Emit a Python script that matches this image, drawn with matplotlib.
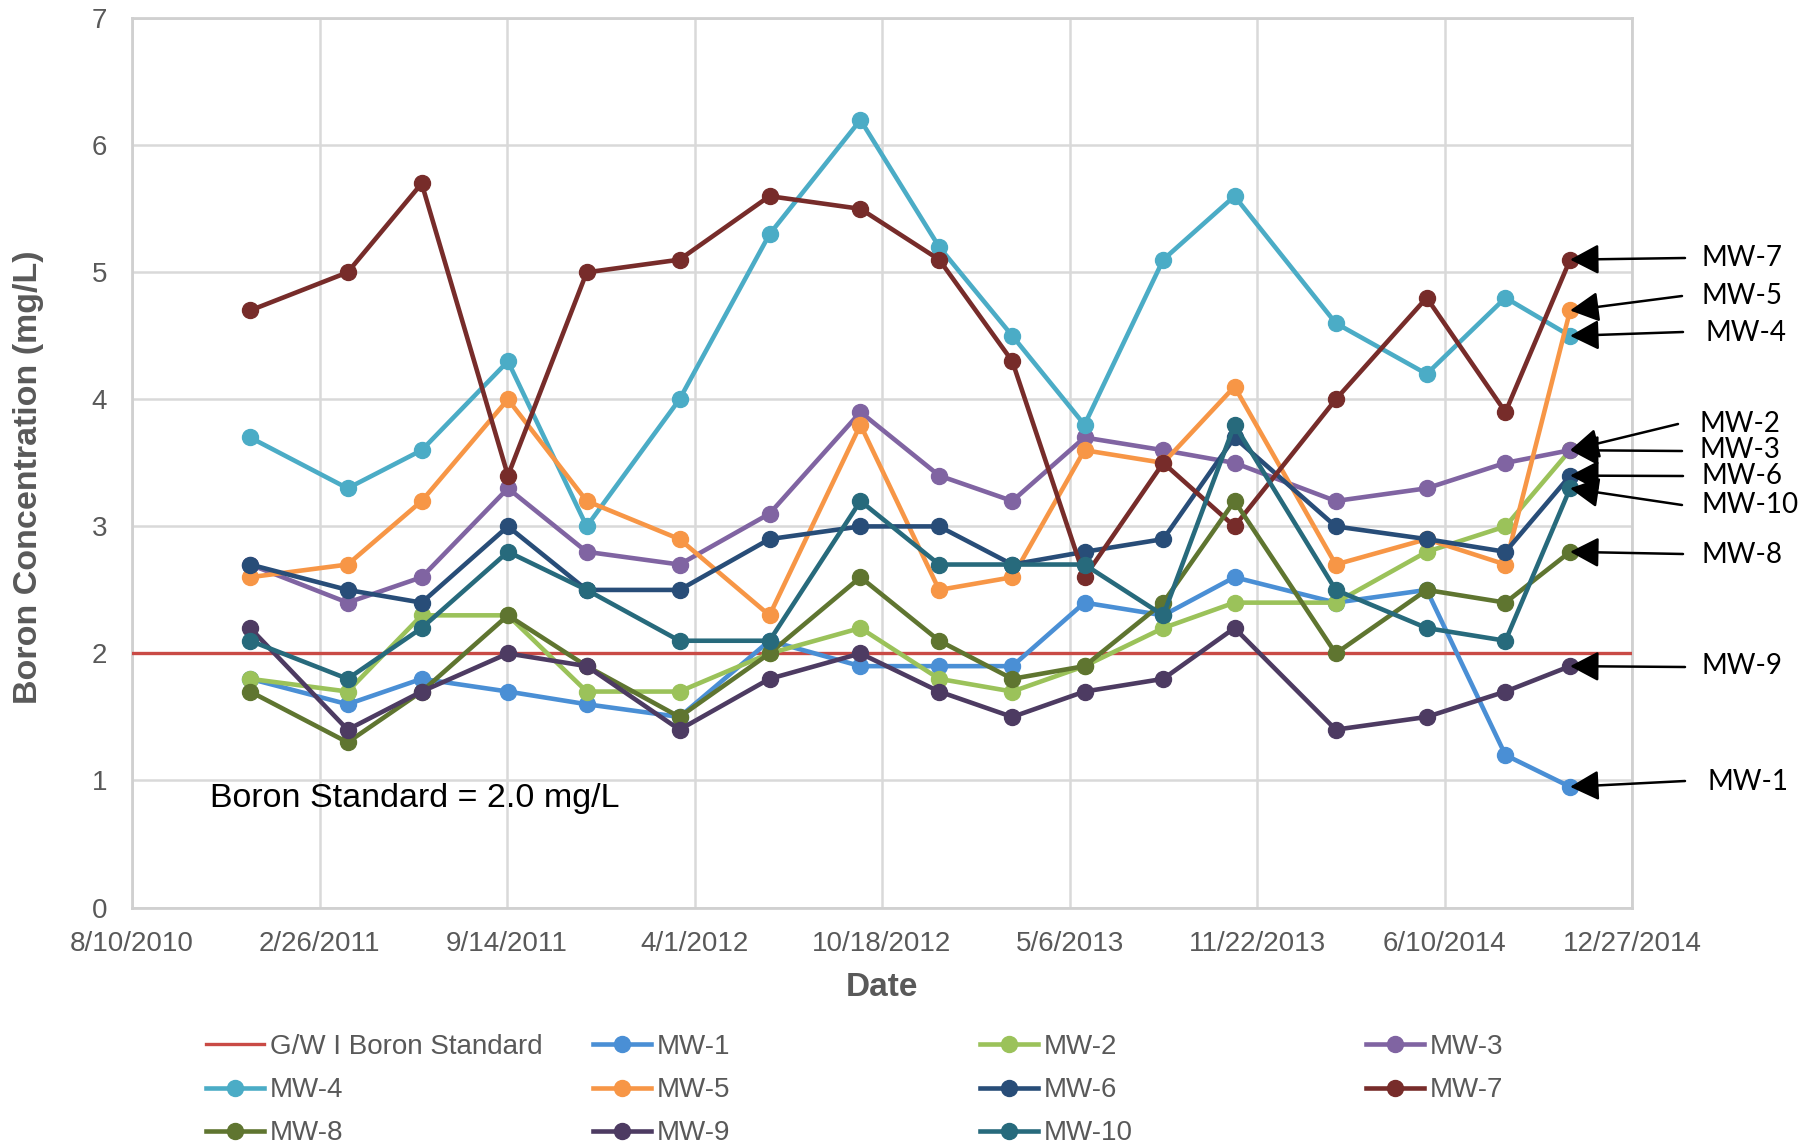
import matplotlib
matplotlib.use("Agg")
import matplotlib.pyplot as plt
import matplotlib.dates as mdates
from matplotlib.ticker import FuncFormatter
import pandas as pd

# Sampling dates
sample_dates = ["2010-12-14", "2011-03-28", "2011-06-15", "2011-09-15", "2011-12-08",
                "2012-03-16", "2012-06-20", "2012-09-25", "2012-12-18", "2013-03-06",
                "2013-05-22", "2013-08-14", "2013-10-29", "2014-02-14", "2014-05-22",
                "2014-08-14", "2014-10-22"]

# Boron concentrations (mg/L) per monitoring well
mw1 = [1.8, 1.6, 1.8, 1.7, 1.6, 1.5, 2.1, 1.9, 1.9, 1.9, 2.4, 2.3, 2.6, 2.4, 2.5, 1.2, 0.95]
mw2 = [1.8, 1.7, 2.3, 2.3, 1.7, 1.7, 2.0, 2.2, 1.8, 1.7, 1.9, 2.2, 2.4, 2.4, 2.8, 3.0, 3.6]
mw3 = [2.7, 2.4, 2.6, 3.3, 2.8, 2.7, 3.1, 3.9, 3.4, 3.2, 3.7, 3.6, 3.5, 3.2, 3.3, 3.5, 3.6]
mw4 = [3.7, 3.3, 3.6, 4.3, 3.0, 4.0, 5.3, 6.2, 5.2, 4.5, 3.8, 5.1, 5.6, 4.6, 4.2, 4.8, 4.5]
mw5 = [2.6, 2.7, 3.2, 4.0, 3.2, 2.9, 2.3, 3.8, 2.5, 2.6, 3.6, 3.5, 4.1, 2.7, 2.9, 2.7, 4.7]
mw6 = [2.7, 2.5, 2.4, 3.0, 2.5, 2.5, 2.9, 3.0, 3.0, 2.7, 2.8, 2.9, 3.7, 3.0, 2.9, 2.8, 3.4]
mw7 = [4.7, 5.0, 5.7, 3.4, 5.0, 5.1, 5.6, 5.5, 5.1, 4.3, 2.6, 3.5, 3.0, 4.0, 4.8, 3.9, 5.1]
mw8 = [1.7, 1.3, 1.7, 2.3, 1.9, 1.5, 2.0, 2.6, 2.1, 1.8, 1.9, 2.4, 3.2, 2.0, 2.5, 2.4, 2.8]
mw9 = [2.2, 1.4, 1.7, 2.0, 1.9, 1.4, 1.8, 2.0, 1.7, 1.5, 1.7, 1.8, 2.2, 1.4, 1.5, 1.7, 1.9]
mw10 = [2.1, 1.8, 2.2, 2.8, 2.5, 2.1, 2.1, 3.2, 2.7, 2.7, 2.7, 2.3, 3.8, 2.5, 2.2, 2.1, 3.3]

well_names = ["MW-1", "MW-2", "MW-3", "MW-4", "MW-5", "MW-6", "MW-7", "MW-8", "MW-9", "MW-10"]
well_values = [mw1, mw2, mw3, mw4, mw5, mw6, mw7, mw8, mw9, mw10]

boron_standard = 2.0
standard_name = "G/W I Boron Standard"

# Date axis ticks (every 200 days)
x_tick_dates = ["2010-08-10", "2011-02-26", "2011-09-14", "2012-04-01", "2012-10-18",
                "2013-05-06", "2013-11-22", "2014-06-10", "2014-12-27"]
y_ticks = [0, 1, 2, 3, 4, 5, 6, 7]

colors = {
    "MW-1": "#4A8FD5", "MW-2": "#9BC25A", "MW-3": "#8064A2", "MW-4": "#4BACC6",
    "MW-5": "#F79646", "MW-6": "#284D78", "MW-7": "#772C2A", "MW-8": "#5F7530",
    "MW-9": "#4D3B62", "MW-10": "#276A7C",
}
std_color = "#C94A45"
text_gray = "#595959"

W, H = 1813, 1145
fig = plt.figure(figsize=(W / 100, H / 100), dpi=100)
ax = fig.add_axes([132 / W, 1 - 907.5 / H, 1500 / W, 889.2 / H])

dates = pd.to_datetime(sample_dates)
tick_dates = pd.to_datetime(x_tick_dates)

handles = {}
(h,) = ax.plot([tick_dates[0], tick_dates[-1]], [boron_standard, boron_standard],
               color=std_color, lw=2.4, zorder=3, label=standard_name)
handles[standard_name] = h
for name, vals in zip(well_names, well_values):
    (h,) = ax.plot(dates, vals, color=colors[name], lw=3.3, marker="o", markersize=11.5,
                   zorder=3, label=name)
    handles[name] = h

ax.set_xlim(tick_dates[0], tick_dates[-1])
ax.set_ylim(0, 7)
ax.set_xticks(tick_dates)
ax.xaxis.set_major_formatter(FuncFormatter(
    lambda v, pos: (lambda d: f"{d.month}/{d.day}/{d.year}")(mdates.num2date(v))))
ax.set_yticks(y_ticks)
ax.grid(True, color="#D9D9D9", lw=1.8, zorder=0)
ax.set_axisbelow(True)
for s in ax.spines.values():
    s.set_color("#D0D0D0")
    s.set_linewidth(2)
ax.tick_params(axis="both", length=0, labelsize=20, labelcolor=text_gray)
ax.tick_params(axis="x", pad=17)
ax.tick_params(axis="y", pad=18)
for lab in ax.get_xticklabels() + ax.get_yticklabels():
    lab.set_fontfamily("Liberation Sans")

fig.text(882 / W, 1 - 987 / H, "Date", ha="center", va="center", fontsize=24,
         fontweight="bold", color=text_gray, family="Liberation Sans")
fig.text(29 / W, 1 - 477 / H, "Boron Concentration (mg/L)", ha="center", va="center",
         rotation=90, fontsize=24.5, fontweight="bold", color=text_gray,
         family="Liberation Sans")

ax.text(0.052, 0.123, "Boron Standard = 2.0 mg/L", transform=ax.transAxes,
        ha="left", va="center", fontsize=24.5, color="black", family="Liberation Sans")

# Callout labels at the right: (text left x, text y, arrow tail x, arrow tail y) in pixels
callouts = {
    "MW-7": (1702, 258, 1685, 258),
    "MW-5": (1702, 296, 1682, 296),
    "MW-4": (1705, 333, 1683, 332),
    "MW-2": (1699, 424, 1678, 424),
    "MW-3": (1699, 450, 1682, 451),
    "MW-6": (1702, 476, 1683, 476),
    "MW-10": (1702, 505, 1682, 505),
    "MW-8": (1702, 555, 1683, 554),
    "MW-9": (1702, 666, 1685, 667),
    "MW-1": (1707, 782, 1685, 781),
}
for name, vals in zip(well_names, well_values):
    tx, ty, ax_, ay = callouts[name]
    ax.annotate("", xy=(dates[-1], vals[-1]), xycoords="data",
                xytext=(ax_, H - ay), textcoords="figure pixels",
                arrowprops=dict(arrowstyle="-|>,head_length=0.8,head_width=0.42",
                                color="black", lw=1.8, shrinkA=0, shrinkB=0,
                                mutation_scale=22),
                annotation_clip=False, zorder=5)
    fig.text(tx / W, 1 - ty / H, name, ha="left", va="center", fontsize=20,
             family="Lato", color="black")

# Legend laid out in four equally spaced columns
legend_cols = [
    [standard_name, "MW-4", "MW-8"],
    ["MW-1", "MW-5", "MW-9"],
    ["MW-2", "MW-6", "MW-10"],
    ["MW-3", "MW-7"],
]
col_x = [206, 593, 980, 1366]
for cx, names in zip(col_x, legend_cols):
    leg = fig.legend(handles=[handles[n] for n in names], labels=names,
                     loc="upper left", bbox_to_anchor=(cx / W, 1 - 1034 / H),
                     frameon=False, handlelength=2.1, handletextpad=0.2,
                     labelspacing=0.62, borderpad=0, borderaxespad=0,
                     prop={"family": "Liberation Sans", "size": 20})
    for t in leg.get_texts():
        t.set_color(text_gray)

fig.savefig("out.png", dpi=100, facecolor="white")
